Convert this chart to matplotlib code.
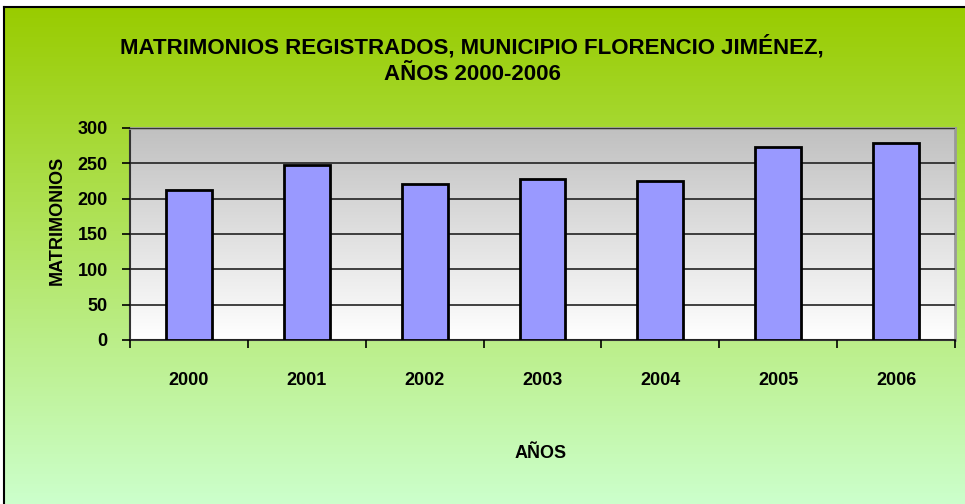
import numpy as np
import matplotlib.pyplot as plt
from matplotlib.ticker import MultipleLocator, FixedLocator

# Data
years = ['2000', '2001', '2002', '2003', '2004', '2005', '2006']
matrimonios = [212, 248, 221, 228, 225, 273, 279]

plt.rcParams['font.family'] = ['Liberation Sans', 'DejaVu Sans']
plt.rcParams['font.weight'] = 'bold'

fig = plt.figure(figsize=(9.65, 5.04), dpi=100)
fig.patch.set_facecolor('white')

# green gradient background with border
bg = fig.add_axes([4 / 965, 0, 1, 1 - 7 / 504], zorder=-10)
grad = np.linspace(0, 1, 256).reshape(-1, 1)
top = np.array([153, 204, 0]) / 255
bot = np.array([204, 255, 204]) / 255
img = top + (bot - top) * grad[:, :, None]
bg.imshow(img, aspect='auto', extent=[0, 1, 0, 1], origin='upper')
bg.set_xlim(0, 1)
bg.set_ylim(0, 1)
bg.set_xticks([])
bg.set_yticks([])
for s in ['right', 'bottom']:
    bg.spines[s].set_visible(False)
for s in ['left', 'top']:
    bg.spines[s].set_linewidth(1.5)
    bg.spines[s].set_color('black')

ax = fig.add_axes([130 / 965, 1 - 340 / 504, 825 / 965, 212 / 504])
x = np.arange(len(years))

# gray-to-white plot area gradient
pg = np.linspace(0, 1, 256).reshape(-1, 1)
ptop = np.array([192, 192, 192]) / 255
pbot = np.array([255, 255, 255]) / 255
pimg = ptop + (pbot - ptop) * pg[:, :, None]
ax.imshow(pimg, aspect='auto', extent=[-0.5, 6.5, 0, 300], origin='upper', zorder=0)

ax.bar(x, matrimonios, width=0.39, color='#9999FF', edgecolor='black',
       linewidth=2, zorder=3)

ax.set_xlim(-0.5, 6.5)
ax.set_ylim(0, 300)
ax.yaxis.set_major_locator(MultipleLocator(50))
ax.yaxis.grid(True, color='#222222', linewidth=1.2, zorder=1)
ax.set_axisbelow(False)

ax.set_xticks(x)
ax.set_xticklabels(years)
ax.xaxis.set_minor_locator(FixedLocator(np.arange(-0.5, 7, 1)))
ax.tick_params(axis='x', which='major', length=0, pad=23, labelsize=13)
ax.tick_params(axis='x', which='minor', length=6, width=1.2, direction='out')
ax.tick_params(axis='y', length=6, width=1.2, direction='out', pad=10,
               labelsize=13)

for s in ['left', 'bottom']:
    ax.spines[s].set_color('#333333')
    ax.spines[s].set_linewidth(1.5)
for s in ['top', 'right']:
    ax.spines[s].set_color('#999999')
    ax.spines[s].set_linewidth(2)

fig.text(472 / 965, 1 - 47 / 504, 'MATRIMONIOS REGISTRADOS, MUNICIPIO FLORENCIO JIMÉNEZ,',
         ha='center', va='center', fontsize=16, fontweight='bold')
fig.text(472 / 965, 1 - 75 / 504, 'AÑOS 2000-2006',
         ha='center', va='center', fontsize=16, fontweight='bold')
fig.text(57 / 965, 1 - 220 / 504, 'MATRIMONIOS', rotation=90,
         ha='center', va='center', fontsize=13, fontweight='bold')
fig.text(541 / 965, 1 - 453 / 504, 'AÑOS',
         ha='center', va='center', fontsize=13, fontweight='bold')

fig.savefig('out.png', dpi=100)
